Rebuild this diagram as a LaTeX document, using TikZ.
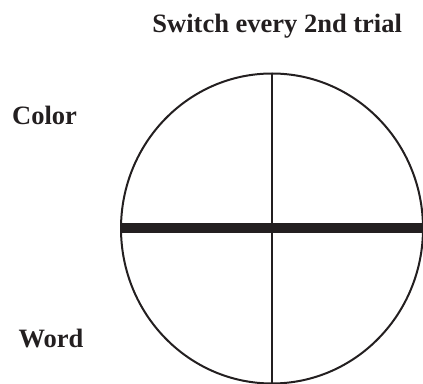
\documentclass[tikz,border=0pt]{standalone}
\usepackage{fontspec}
\setmainfont{Liberation Serif}
\usepackage{tikz}
\usetikzlibrary{shapes.geometric}
\definecolor{dialInk}{HTML}{231F20}
\tikzset{
  label/.style={
    anchor=base west,
    inner sep=0pt,
    text=dialInk,
    font=\fontsize{26.5}{30}\selectfont\bfseries
  },
  dial/.style={
    ellipse,
    draw=dialInk,
    line width=2pt,
    outer sep=0pt,
    minimum width=302pt,
    minimum height=310pt
  },
  axis/.style={draw=dialInk, line width=2pt},
  task/.style={draw=dialInk, line width=10pt}
}
\begin{document}
\begin{tikzpicture}[x=1pt, y=1pt]
\useasboundingbox (0,0) rectangle (423,383);
\clip (0,0) rectangle (423,383);

\node[label, anchor=base] (title) at (277.2,350.7) {Switch every 2nd trial};
\node[label] (color) at (12,258.5) {Color};
\node[label] (word) at (18.3,35) {Word};

\node[dial] (wheel) at (272,154.5) {};

\draw[axis] (wheel.north) -- (wheel.south);
\draw[task] (wheel.west) -- (wheel.east);

\end{tikzpicture}
\end{document}
